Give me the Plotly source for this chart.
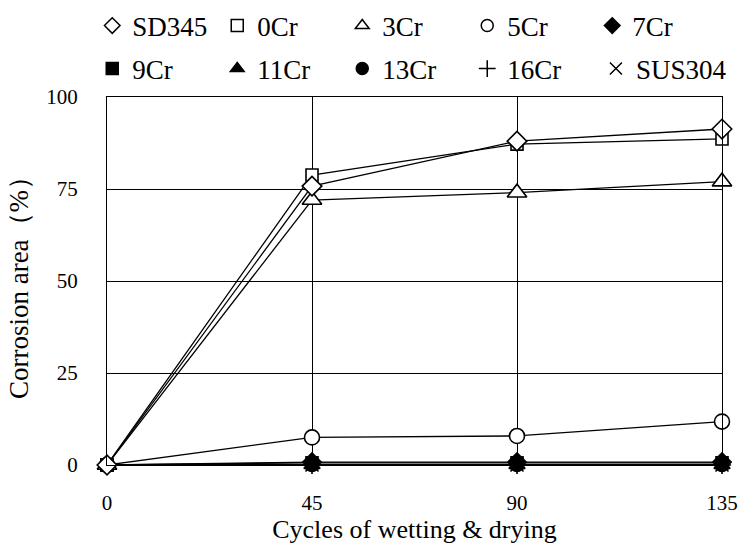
import plotly.graph_objects as go

cycles = [0, 45, 90, 135]

names = ["SD345", "0Cr", "3Cr", "5Cr", "7Cr", "9Cr", "11Cr", "13Cr", "16Cr", "SUS304"]
sd345 = [0, 75.8, 88.0, 91.3]
cr0 = [0, 78.8, 87.2, 88.6]
cr3 = [0, 72.0, 74.0, 77.0]
cr5 = [0, 7.5, 7.9, 11.8]
cr7 = [0, 0.8, 0.8, 0.8]
cr9 = [0, 0.6, 0.6, 0.6]
cr11 = [0, 0, 0, 0]
cr13 = [0, 0, 0, 0]
cr16 = [0, 0, 0, 0]
sus304 = [0, 0, 0, 0]
series = [sd345, cr0, cr3, cr5, cr7, cr9, cr11, cr13, cr16, sus304]

symbols = ["diamond", "square", "triangle-up", "circle", "diamond",
           "square", "triangle-up", "circle", "cross-thin", "x-thin"]
filled = [False, False, False, False, True, True, True, True, True, True]
sizes = [15, 12, 17, 15, 14, 12, 14, 13, 13, 13]
# which legend row/box each entry goes in (last one gets its own box so it isn't clipped)
legend_ids = ["legend"] * 5 + ["legend2"] * 4 + ["legend3"]

FONT = "Liberation Serif, Times New Roman, serif"

fig = go.Figure()

# plot lines (flat series first so the open markers sit on top)
for i in reversed(range(len(names))):
    fig.add_trace(go.Scatter(
        x=cycles, y=series[i], mode="lines+markers", showlegend=False,
        line=dict(color="black", width=1.3),
        marker=dict(symbol=symbols[i], size=sizes[i],
                    color="black" if filled[i] else "white",
                    line=dict(color="black", width=1.6)),
        cliponaxis=False,
    ))

# legend entries, marker only
for i, name in enumerate(names):
    fig.add_trace(go.Scatter(
        x=[None], y=[None], mode="markers", name=name, legend=legend_ids[i],
        marker=dict(symbol=symbols[i], size=12,
                    color="black" if filled[i] else "white",
                    line=dict(color="black", width=1.5)),
    ))

legfont = dict(family=FONT, size=27, color="black")
leg = dict(orientation="h", xanchor="left", yanchor="middle",
           entrywidth=80, entrywidthmode="pixels", itemwidth=30,
           font=legfont, bgcolor="rgba(0,0,0,0)")

fig.update_layout(
    width=741, height=544,
    margin=dict(l=107, r=19, t=97, b=79, autoexpand=False),
    plot_bgcolor="white", paper_bgcolor="white",
    font=dict(family=FONT, size=21, color="black"),
    legend=dict(leg, x=-0.024, y=1.193),
    legend2=dict(leg, x=-0.024, y=1.076),
    legend3=dict(orientation="h", xanchor="left", yanchor="middle", itemwidth=30,
                 font=legfont, bgcolor="rgba(0,0,0,0)", x=0.795, y=1.076),
    xaxis=dict(
        range=[0, 135], tickvals=cycles, showgrid=True, gridcolor="black", gridwidth=1,
        showline=True, linecolor="black", linewidth=1, mirror=True, zeroline=False,
        ticks="outside", ticklen=19, tickcolor="rgba(0,0,0,0)",
        tickfont=dict(family=FONT, size=21),
        title=dict(text="Cycles of wetting & drying", standoff=0,
                   font=dict(family=FONT, size=26)),
    ),
    yaxis=dict(
        range=[0, 100], tickvals=[0, 25, 50, 75, 100], showgrid=True, gridcolor="black",
        gridwidth=1, showline=True, linecolor="black", linewidth=1, mirror=True,
        zeroline=False, ticks="outside", ticklen=24, tickcolor="rgba(0,0,0,0)",
        tickfont=dict(family=FONT, size=21),
        title=dict(text="Corrosion area（%）", standoff=9,
                   font=dict(family=FONT, size=27)),
    ),
)

# drop the page's default body margin so the figure fills the window exactly
fig.write_html("out.html", config={"displayModeBar": False},
               post_script="document.body.style.margin='0px';")
